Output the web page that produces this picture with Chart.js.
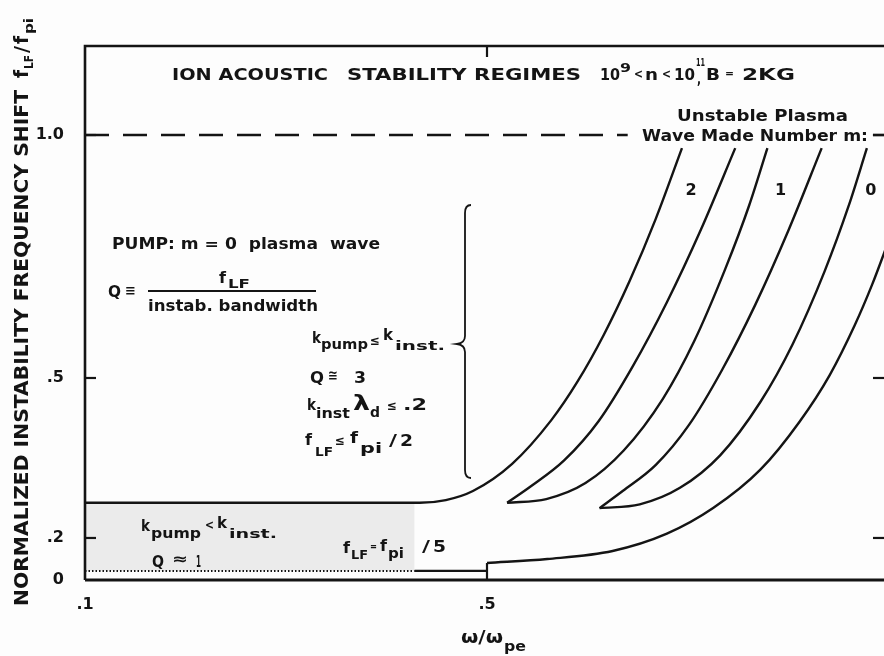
<!DOCTYPE html>
<html>
<head>
<meta charset="utf-8">
<script src="https://cdn.jsdelivr.net/npm/chart.js@4.4.1/dist/chart.umd.min.js"></script>
<style>
html, body { margin: 0; padding: 0; overflow: hidden; background: #fdfdfd; }
#wrap { position: relative; width: 900px; height: 656px; }
</style>
</head>
<body>
<div id="wrap"><canvas id="chart"></canvas></div>
<script>
// -------- data (x = w/w_pe, y = f_LF/f_pi)
const xTicks = [0.1, 0.5];
const xTickLabels = ['.1', '.5'];
const yTicks = [0, 0.2, 0.5, 1.0];
const yTickLabels = ['0', '.2', '.5', '1.0'];

// mode boundaries, m = 2 / 1 / 0 bands (left and right edge of each)
const m2LeftX  = [0.100, 0.433, 0.459, 0.486, 0.525, 0.564, 0.590, 0.616, 0.642, 0.668, 0.694];
const m2LeftY  = [0.266, 0.266, 0.271, 0.288, 0.339, 0.421, 0.493, 0.588, 0.700, 0.828, 0.973];
const m2RightX = [0.520, 0.543, 0.577, 0.611, 0.645, 0.679, 0.713, 0.747];
const m2RightY = [0.266, 0.296, 0.346, 0.419, 0.524, 0.656, 0.806, 0.973];
const m1LeftX  = [0.520, 0.559, 0.598, 0.636, 0.675, 0.706, 0.737, 0.761, 0.779];
const m1LeftY  = [0.266, 0.273, 0.303, 0.364, 0.461, 0.575, 0.724, 0.856, 0.973];
const m1RightX = [0.612, 0.635, 0.668, 0.701, 0.734, 0.767, 0.800, 0.833];
const m1RightY = [0.256, 0.288, 0.337, 0.412, 0.517, 0.651, 0.804, 0.973];
const m0LeftX  = [0.612, 0.652, 0.692, 0.732, 0.772, 0.804, 0.836, 0.860, 0.878];
const m0LeftY  = [0.256, 0.263, 0.294, 0.355, 0.455, 0.569, 0.720, 0.855, 0.973];
const m0RightX = [0.500, 0.560, 0.625, 0.679, 0.725, 0.772, 0.811, 0.841, 0.866, 0.883, 0.900];
const m0RightY = [0.081, 0.100, 0.138, 0.208, 0.256, 0.328, 0.418, 0.506, 0.609, 0.691, 0.784];

// Q ~ 1 floor and the step at w/w_pe = .5
const pumpLevel = 0.266;
const floorLevel = 0.043;
const floorDottedEnd = 0.428;
const stepX = 0.5;
const stepTop = 0.081;

// f_LF = f_pi limit (gap where the mode caption sits)
const limitLevel = 1.0;
const limitGap = [0.640, 0.884];

const modeLabels = ['2', '1', '0'];

// -------- y axis: hand-drawn, not evenly spaced between ticks
const yKnotValues = [0, 0.2, 0.5, 1.0, 1.183];
const yKnotFracs  = [0, 0.0787, 0.3783, 0.8333, 1];

function interp(v, xs, ys) {
	if (v <= xs[0]) return ys[0] + (v - xs[0]) * (ys[1] - ys[0]) / (xs[1] - xs[0]);
	for (let i = 1; i < xs.length; i++) {
		if (v <= xs[i] || i === xs.length - 1) {
			return ys[i - 1] + (v - xs[i - 1]) * (ys[i] - ys[i - 1]) / (xs[i] - xs[i - 1]);
		}
	}
}

class BrokenLinearScale extends Chart.LinearScale {
	getPixelForValue(value) {
		const f = interp(value, yKnotValues, yKnotFracs);
		return this.bottom - f * (this.bottom - this.top);
	}
	getValueForPixel(pixel) {
		const f = (this.bottom - pixel) / (this.bottom - this.top);
		return interp(f, yKnotFracs, yKnotValues);
	}
}
BrokenLinearScale.id = 'brokenLinear';
BrokenLinearScale.defaults = Chart.LinearScale.defaults;
Chart.register(BrokenLinearScale);

const ink = '#141414';
const face = '"DejaVu Sans", sans-serif';

function pts(xs, ys) {
	return xs.map((x, i) => ({x: x, y: ys[i]}));
}

function curve(xs, ys) {
	return {data: pts(xs, ys), borderColor: ink, borderWidth: 2.4, pointRadius: 0, cubicInterpolationMode: 'monotone', fill: false};
}

// text pieces: [text, x, baseline, width, size]
const notes = [
	['ION ACOUSTIC', 172, 80, 156, 16],
	['STABILITY REGIMES', 347, 80, 234, 16],
	['10', 600, 80, 20, 16],
	['9', 620, 72, 11, 13],
	['<', 634, 78, 9, 12],
	['n', 645, 80, 13, 16],
	['<', 662, 78, 9, 12],
	['10', 674, 80, 21, 16],
	['11', 696, 66, 9, 11],
	[',', 697, 84, 4, 14],
	['B', 706, 80, 14, 16],
	['=', 725, 77, 9, 11],
	['2KG', 742, 80, 53, 16],
	['Unstable Plasma', 677, 121, 171, 15],
	['Wave Made Number m:', 642, 141, 226, 15],
	['PUMP: m = 0  plasma  wave', 112, 249, 268, 16],
	['Q', 108, 297, 13, 15],
	['\u2261', 125, 295, 11, 14],
	['f', 219, 283, 7, 16],
	['LF', 228, 288, 22, 13],
	['instab. bandwidth', 148, 311, 170, 15],
	['k', 312, 343, 9, 15],
	['pump', 321, 349, 47, 14],
	['\u2264', 370, 345, 10, 13],
	['k', 383, 340, 10, 15],
	['inst.', 395, 350, 50, 13],
	['Q', 310, 383, 14, 16],
	['\u2245', 328, 380, 10, 14],
	['3', 354, 383, 12, 16],
	['k', 307, 410, 9, 15],
	['inst', 316, 418, 34, 14],
	['\u03bb', 353, 410, 17, 22],
	['d', 370, 417, 10, 14],
	['\u2264', 387, 410, 10, 13],
	['.2', 403, 410, 24, 16],
	['f', 305, 445, 7, 16],
	['LF', 315, 456, 18, 13],
	['\u2264', 335, 445, 10, 13],
	['f', 350, 443, 8, 16],
	['pi', 360, 453, 22, 14],
	['/', 389, 446, 8, 16],
	['2', 400, 446, 13, 16],
	['k', 141, 531, 9, 15],
	['pump', 151, 538, 50, 14],
	['<', 205, 529, 9, 12],
	['k', 217, 528, 10, 15],
	['inst.', 229, 538, 48, 13],
	['Q', 152, 567, 12, 15],
	['\u2248', 172, 564, 16, 15],
	['1', 196, 567, 5, 15],
	['f', 343, 553, 7, 16],
	['LF', 351, 559, 17, 13],
	['=', 370, 550, 7, 10],
	['f', 380, 551, 7, 16],
	['pi', 388, 558, 16, 14],
	['/', 422, 552, 8, 16],
	['5', 433, 552, 13, 16],
	['\u03c9/\u03c9', 461, 643, 42, 18],
	['pe', 504, 651, 22, 14]
];

// axis title, drawn turned up the left side: [text, along, baseline shift, width, size]
const yTitle = [
	['NORMALIZED INSTABILITY FREQUENCY SHIFT', 0, 0, 516, 19],
	['f', 528, 0, 8, 19],
	['LF', 537, 5, 14, 13],
	['/', 553, 0, 7, 19],
	['f', 562, 0, 8, 19],
	['pi', 572, 5, 16, 13]
];

function putText(ctx, t) {
	const [text, x, y, w, size] = t;
	ctx.font = 'bold ' + size + 'px ' + face;
	const nat = ctx.measureText(text).width;
	ctx.save();
	ctx.translate(x, y);
	ctx.scale(w / nat, 1);
	ctx.fillText(text, 0, 0);
	ctx.restore();
}

function line(ctx, x1, y1, x2, y2) {
	ctx.beginPath();
	ctx.moveTo(x1, y1);
	ctx.lineTo(x2, y2);
	ctx.stroke();
}

const paperDecor = {
	id: 'paperDecor',
	afterDatasetsDraw(chart) {
		const ctx = chart.ctx;
		const a = chart.chartArea;
		const x = chart.scales.x, y = chart.scales.y;
		ctx.save();
		ctx.strokeStyle = ink;
		ctx.fillStyle = ink;
		ctx.lineCap = 'butt';

		// frame
		ctx.lineWidth = 2.6;
		ctx.beginPath();
		ctx.moveTo(a.left, a.bottom);
		ctx.lineTo(a.left, a.top);
		ctx.lineTo(a.right, a.top);
		ctx.lineTo(a.right, a.bottom);
		ctx.stroke();
		ctx.lineWidth = 3;
		line(ctx, a.left, y.getPixelForValue(0), a.right, y.getPixelForValue(0));

		// inward ticks
		ctx.lineWidth = 2.2;
		yTicks.forEach(v => {
			if (v === 0) return;
			const py = y.getPixelForValue(v);
			line(ctx, a.left, py, a.left + 11, py);
			line(ctx, a.right - 16, py, a.right, py);
		});
		line(ctx, x.getPixelForValue(0.5), a.top, x.getPixelForValue(0.5), a.top + 11);

		// brace next to the k_pump <= k_inst conditions
		ctx.lineWidth = 1.8;
		ctx.beginPath();
		ctx.moveTo(471, 205);
		ctx.quadraticCurveTo(465, 205, 465, 213);
		ctx.lineTo(465, 336);
		ctx.quadraticCurveTo(465, 343, 457, 344);
		ctx.quadraticCurveTo(465, 345, 465, 352);
		ctx.lineTo(465, 470);
		ctx.quadraticCurveTo(465, 478, 471, 478);
		ctx.stroke();

		// Q fraction bar
		ctx.lineWidth = 2;
		line(ctx, 148, 291, 316, 291);

		ctx.textBaseline = 'alphabetic';
		ctx.textAlign = 'left';
		notes.forEach(t => putText(ctx, t));

		// mode numbers between the curves
		const lx = [0.703, 0.792, 0.882];
		ctx.font = 'bold 16px ' + face;
		ctx.textAlign = 'center';
		modeLabels.forEach((m, i) => {
			ctx.fillText(m, x.getPixelForValue(lx[i]), 195);
		});
		ctx.textAlign = 'left';

		ctx.save();
		ctx.translate(28, 606);
		ctx.rotate(-Math.PI / 2);
		yTitle.forEach(t => putText(ctx, t));
		ctx.restore();

		ctx.restore();
	}
};

const tickFont = {family: face, size: 16, weight: 'bold'};

new Chart(document.getElementById('chart'), {
	type: 'line',
	data: {
		datasets: [
			curve(m2LeftX, m2LeftY),
			curve(m2RightX, m2RightY),
			curve(m1LeftX, m1LeftY),
			curve(m1RightX, m1RightY),
			curve(m0LeftX, m0LeftY),
			curve(m0RightX, m0RightY),
			{data: [{x: stepX, y: 0}, {x: stepX, y: stepTop}], borderColor: ink, borderWidth: 2.2, pointRadius: 0, tension: 0},
			{data: [{x: floorDottedEnd, y: floorLevel}, {x: stepX, y: floorLevel}], borderColor: ink, borderWidth: 2.2, pointRadius: 0, tension: 0},
			{data: [{x: 0.1, y: floorLevel}, {x: floorDottedEnd, y: floorLevel}], borderColor: ink, borderWidth: 2, borderDash: [1.5, 2], pointRadius: 0, tension: 0},
			{data: [{x: 0.1, y: limitLevel}, {x: limitGap[0], y: limitLevel}, {x: (limitGap[0] + limitGap[1]) / 2, y: null}, {x: limitGap[1], y: limitLevel}, {x: 0.9, y: limitLevel}],
				borderColor: ink, borderWidth: 2.6, borderDash: [24, 14], pointRadius: 0, tension: 0, spanGaps: false},
			// light tint of the Q ~ 1 region
			{data: [{x: 0.1, y: pumpLevel}, {x: floorDottedEnd, y: pumpLevel}], borderColor: 'rgba(0,0,0,0)', borderWidth: 0,
				backgroundColor: '#ebebeb', fill: {value: floorLevel}, pointRadius: 0, order: 10}
		]
	},
	options: {
		responsive: true,
		maintainAspectRatio: false,
		animation: false,
		layout: {padding: {top: 46, right: 11, left: 0, bottom: 0}},
		plugins: {legend: {display: false}, tooltip: {enabled: false}},
		scales: {
			x: {
				type: 'linear', min: 0.1, max: 0.9,
				grid: {display: false}, border: {display: false},
				afterBuildTicks: s => { s.ticks = xTicks.map(v => ({value: v})); },
				afterFit: s => { s.height = 76; },
				ticks: {callback: (v, i) => xTickLabels[i], font: tickFont, color: ink, padding: 7, maxRotation: 0, autoSkip: false}
			},
			y: {
				type: 'brokenLinear', min: 0, max: 1.183,
				grid: {display: false}, border: {display: false},
				afterBuildTicks: s => { s.ticks = yTicks.map(v => ({value: v})); },
				afterFit: s => { s.width = 85; },
				ticks: {callback: (v, i) => yTickLabels[i], font: tickFont, color: ink, padding: 13, autoSkip: false}
			}
		}
	},
	plugins: [paperDecor]
});
</script>
</body>
</html>
